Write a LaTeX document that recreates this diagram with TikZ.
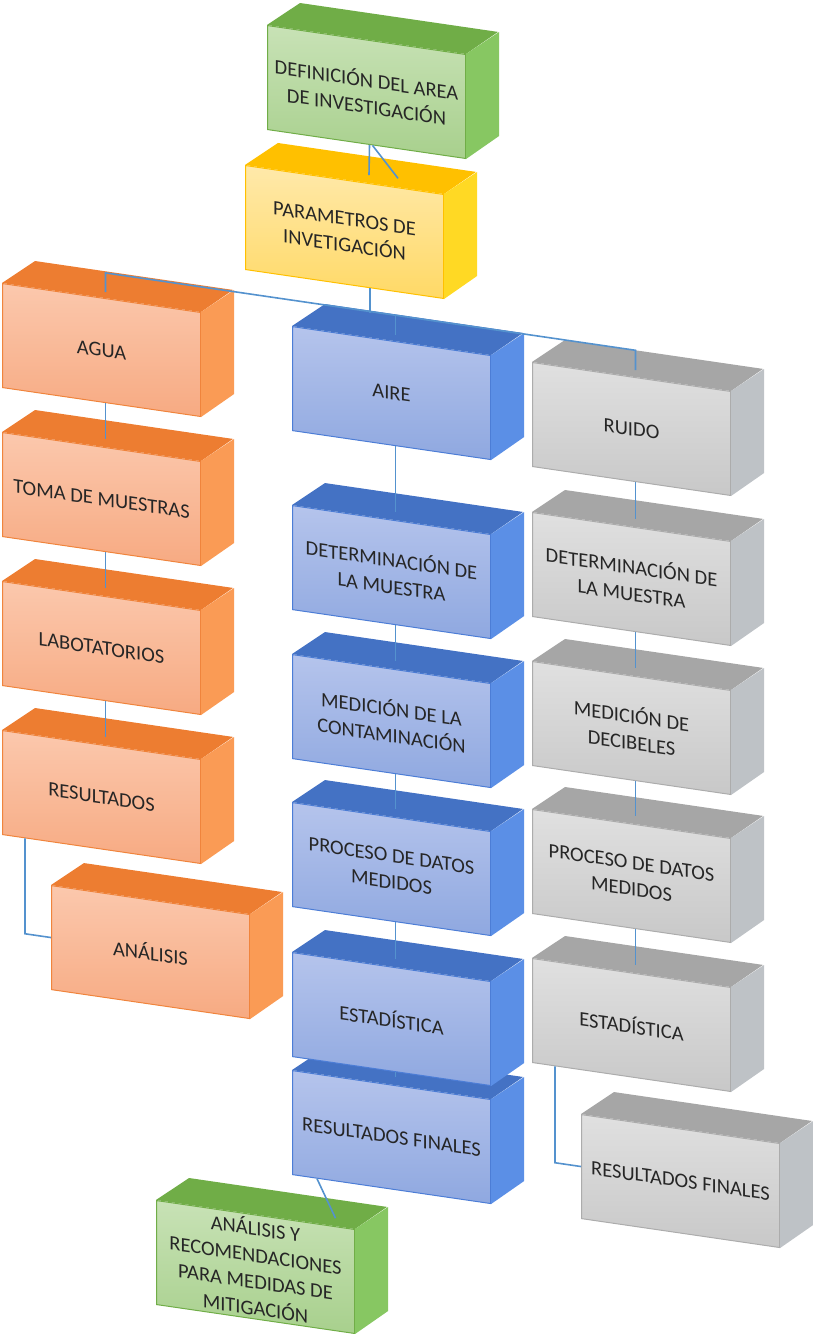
\documentclass[tikz,border=0pt]{standalone}
\usepackage{fontspec}
\setmainfont{Carlito}
\usepackage{tikz}
\usetikzlibrary{calc}

\definecolor{orghi}{RGB}{251,200,173}
\definecolor{orglo}{RGB}{247,170,130}
\definecolor{orgtp}{RGB}{237,125,49}
\definecolor{orgsd}{RGB}{250,155,85}
\definecolor{orgln}{RGB}{240,132,60}
\definecolor{bluhi}{RGB}{181,196,236}
\definecolor{blulo}{RGB}{143,168,224}
\definecolor{blutp}{RGB}{68,114,196}
\definecolor{blusd}{RGB}{91,143,230}
\definecolor{bluln}{RGB}{76,125,214}
\definecolor{gryhi}{RGB}{224,224,224}
\definecolor{grylo}{RGB}{200,200,200}
\definecolor{grytp}{RGB}{166,166,166}
\definecolor{grysd}{RGB}{190,194,198}
\definecolor{gryln}{RGB}{172,172,172}
\definecolor{grnhi}{RGB}{200,226,182}
\definecolor{grnlo}{RGB}{168,208,141}
\definecolor{grntp}{RGB}{112,173,71}
\definecolor{grnsd}{RGB}{135,199,98}
\definecolor{grnln}{RGB}{112,173,71}
\definecolor{ylwhi}{RGB}{255,233,170}
\definecolor{ylwlo}{RGB}{255,217,102}
\definecolor{ylwtp}{RGB}{255,192,0}
\definecolor{ylwsd}{RGB}{255,217,36}
\definecolor{ylwln}{RGB}{255,192,0}
\definecolor{linkblue}{RGB}{84,146,206}

% front face as a node, then top and side faces
\newcommand{\slab}[4]{%
	\node[slabfront, top color=#3hi, bottom color=#3lo, draw=#3ln] (#1) at (#2) {#4};
	\fill[#3tp] (#1.north west) -- ++(33,26.8) -- ++(198,0) -- (#1.north east) -- cycle;
	\fill[#3sd] (#1.north east) -- ++(33,26.8) -- ++(0,-104) -- (#1.south east) -- cycle;
}

\begin{document}
\begin{tikzpicture}[x=1pt, y=1pt,
	slabfront/.style={anchor=north west, minimum width=198pt, minimum height=104pt, inner sep=2pt, align=center, transform shape, line width=1pt, text=black!85, font=\fontsize{20.5}{26.5}\selectfont},
	link/.style={draw=linkblue, line width=1.6pt}]
	\useasboundingbox (0,0) rectangle (813,-1334);
	
	\begin{scope}[yslant=-0.146]
	\slab{recom}{156,-1177.2}{grn}{ANÁLISIS Y\\RECOMENDACIONES\\PARA MEDIDAS DE\\MITIGACIÓN}
	
	\slab{finR}{581,-1029.2}{gry}{RESULTADOS FINALES}
	\slab{estR}{532,-880.3}{gry}{ESTADÍSTICA}
	\slab{procR}{532,-731.3}{gry}{PROCESO DE DATOS\\MEDIDOS}
	\slab{medR}{532,-583.3}{gry}{MEDICIÓN DE\\DECIBELES}
	\slab{detR}{532,-434.3}{gry}{DETERMINACIÓN DE\\LA MUESTRA}
	\slab{ruido}{532,-284.3}{gry}{RUIDO}
	
	\slab{finA}{292,-1027.4}{blu}{RESULTADOS FINALES}
	\slab{estA}{292,-909.4}{blu}{ESTADÍSTICA}
	\slab{procA}{292,-759.4}{blu}{PROCESO DE DATOS\\MEDIDOS}
	\slab{medA}{292,-611.4}{blu}{MEDICIÓN DE LA\\CONTAMINACIÓN}
	\slab{detA}{292,-462.4}{blu}{DETERMINACIÓN DE\\LA MUESTRA}
	\slab{aire}{292,-283.4}{blu}{AIRE}
	
	\slab{analisis}{51,-877.6}{org}{ANÁLISIS}
	\slab{res}{2,-729.7}{org}{RESULTADOS}
	\slab{lab}{2,-580.7}{org}{LABOTATORIOS}
	\slab{toma}{2,-431.7}{org}{TOMA DE MUESTRAS}
	\slab{agua}{2,-282.7}{org}{AGUA}
	
	\slab{param}{245,-129.2}{ylw}{PARAMETROS DE\\INVETIGACIÓN}
	\slab{def}{267,14}{grn}{DEFINICIÓN DEL AREA\\DE INVESTIGACIÓN}
	
	\draw[link] ($(def.south)+(3,0)$) -- ($(param.north west)+(124,8)$);
	\draw[link] ($(def.south)+(6,0)$) -- ($(param.north west)+(153,9)$);
	\draw[link] ($(param.south west)+(125,0)$) -- ++(0,-24.3);
	\draw[link] ($(agua.north)+(4,6)$) -- ($(agua.north)+(4,25.2)$) -- ($(ruido.north)+(4,26.8)$) -- ($(ruido.north)+(4,7)$);
	\draw[link] ($(aire.north)+(4,26)$) -- ($(aire.north)+(4,6)$);
	
	\foreach \a/\b in {agua/toma, toma/lab, lab/res, aire/detA, detA/medA, medA/procA, procA/estA, estA/finA, ruido/detR, detR/medR, medR/procR, procR/estR}
		\draw[link] ($(\a.south)+(4,0)$) -- ($(\b.north)+(4,8)$);
	
	\draw[link] ($(res.south west)+(23,0)$) -- ($(analisis.west)+(-26,0)$) -- (analisis.west);
	\draw[link] ($(estR.south west)+(23,0)$) -- ($(finR.west)+(-26,0)$) -- (finR.west);
	\draw[link] ($(finA.south west)+(25,0)$) -- ($(recom.north)+(80,8)$);
	\end{scope}
\end{tikzpicture}
\end{document}
